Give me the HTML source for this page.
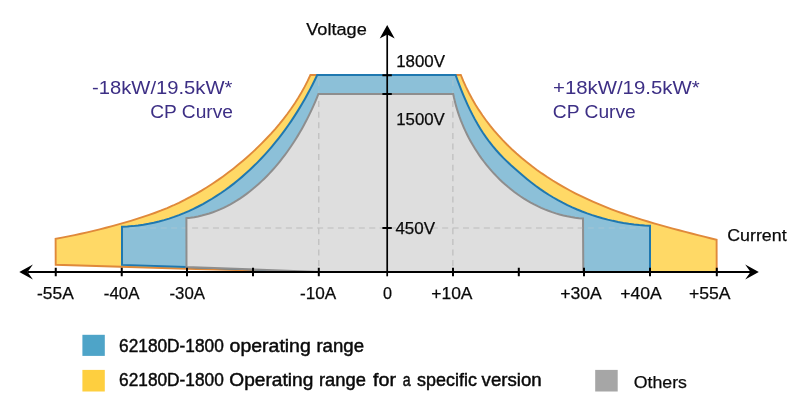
<!DOCTYPE html>
<html><head><meta charset="utf-8"><title>62180D-1800 operating range</title>
<style>
html,body{margin:0;padding:0;background:#fff;}
body{width:800px;height:401px;overflow:hidden;}
svg{display:block;}
text{font-family:"Liberation Sans",sans-serif;}
.ax{font-size:17.4px;fill:#0a0a0a;stroke:#0a0a0a;stroke-width:0.25px;}
.cp{font-size:17.5px;fill:#3d2f85;}
.lg{font-size:17.6px;fill:#0a0a0a;stroke:#0a0a0a;stroke-width:0.45px;}
</style></head><body>
<svg width="800" height="401" viewBox="0 0 800 401">
<rect width="800" height="401" fill="#fff"/>
<!-- specific-version operating range (yellow) -->
<path d="M55.70,264.80 L55.60,238.80 L61.94,237.63 L68.26,236.41 L74.57,235.12 L80.87,233.77 L87.15,232.35 L93.42,230.88 L99.67,229.35 L105.91,227.76 L112.13,226.11 L118.34,224.40 L124.54,222.63 L130.72,220.80 L136.88,218.91 L143.02,216.95 L149.13,214.90 L155.20,212.75 L161.22,210.47 L167.17,208.05 L173.07,205.49 L178.89,202.78 L184.65,199.93 L190.34,196.95 L195.97,193.84 L201.53,190.60 L207.01,187.23 L212.43,183.74 L217.77,180.14 L223.03,176.42 L228.22,172.58 L233.33,168.64 L238.35,164.60 L243.30,160.45 L248.15,156.20 L252.93,151.86 L257.61,147.42 L262.20,142.89 L266.69,138.28 L271.09,133.57 L275.37,128.77 L279.53,123.87 L283.57,118.87 L287.47,113.77 L291.23,108.56 L294.85,103.25 L298.30,97.83 L301.59,92.30 L304.71,86.65 L307.65,80.89 L310.40,75.00 L460.80,75.00 L463.34,81.15 L466.07,87.16 L468.98,93.04 L472.08,98.79 L475.35,104.41 L478.79,109.90 L482.40,115.26 L486.16,120.48 L490.08,125.59 L494.15,130.56 L498.36,135.40 L502.71,140.12 L507.19,144.72 L511.80,149.19 L516.54,153.53 L521.39,157.75 L526.35,161.85 L531.43,165.82 L536.60,169.67 L541.88,173.41 L547.24,177.02 L552.69,180.51 L558.23,183.88 L563.84,187.13 L569.52,190.27 L575.26,193.29 L581.07,196.19 L586.94,198.97 L592.85,201.65 L598.81,204.21 L604.82,206.67 L610.87,209.04 L616.96,211.31 L623.08,213.50 L629.23,215.61 L635.40,217.64 L641.60,219.60 L647.82,221.50 L654.06,223.34 L660.31,225.13 L666.57,226.88 L672.84,228.58 L679.11,230.24 L685.38,231.88 L691.65,233.49 L697.90,235.08 L704.15,236.66 L710.38,238.23 L716.60,239.80 L716.70,272.00 L320.00,272.00 L186.50,268.80 Z" fill="#ffd966" stroke="#e0893a" stroke-width="1.9" stroke-linejoin="miter"/>
<!-- operating range (blue) -->
<path d="M122.00,264.90 L122.00,226.80 L127.40,226.54 L132.76,226.12 L138.08,225.52 L143.36,224.76 L148.59,223.84 L153.78,222.76 L158.92,221.52 L164.02,220.13 L169.07,218.60 L174.07,216.92 L179.01,215.10 L183.91,213.15 L188.74,211.06 L193.53,208.84 L198.25,206.50 L202.92,204.03 L207.52,201.44 L212.06,198.74 L216.54,195.92 L220.96,193.00 L225.31,189.97 L229.59,186.84 L233.80,183.61 L237.94,180.28 L242.01,176.86 L246.00,173.36 L249.92,169.77 L253.77,166.09 L257.55,162.34 L261.25,158.51 L264.87,154.61 L268.43,150.63 L271.90,146.59 L275.31,142.48 L278.63,138.31 L281.89,134.08 L285.06,129.80 L288.16,125.46 L291.19,121.07 L294.14,116.63 L297.01,112.14 L299.80,107.62 L302.52,103.05 L305.16,98.45 L307.72,93.82 L310.21,89.15 L312.62,84.46 L314.95,79.74 L317.20,75.00 L455.60,75.00 L457.46,80.06 L459.37,85.09 L461.32,90.08 L463.34,95.03 L465.44,99.93 L467.62,104.80 L469.89,109.63 L472.28,114.41 L474.78,119.14 L477.41,123.82 L480.17,128.43 L483.06,132.96 L486.09,137.39 L489.25,141.72 L492.56,145.94 L496.02,150.02 L499.61,153.98 L503.31,157.84 L507.12,161.59 L511.01,165.25 L514.98,168.82 L519.00,172.33 L523.07,175.77 L527.17,179.16 L531.33,182.48 L535.56,185.70 L539.87,188.83 L544.26,191.85 L548.73,194.74 L553.29,197.51 L557.93,200.15 L562.64,202.67 L567.42,205.06 L572.26,207.33 L577.17,209.47 L582.14,211.48 L587.15,213.37 L592.22,215.12 L597.33,216.75 L602.48,218.25 L607.67,219.61 L612.89,220.85 L618.14,221.96 L623.41,222.93 L628.71,223.77 L634.02,224.48 L639.34,225.05 L644.67,225.49 L650.00,225.80 L650.00,272.00 L320.00,272.00 L186.50,266.90 Z" fill="#8cc0d8" stroke="#1f78b0" stroke-width="2" stroke-linejoin="miter"/>
<!-- dashed guides inside blue (faint) -->
<g stroke="#a3c4d3" stroke-width="1.1" fill="none">
<line x1="129.4" y1="228" x2="649" y2="228" stroke-dasharray="6 4.42"/>
<line x1="318.8" y1="79.9" x2="318.8" y2="271" stroke-dasharray="6 4.6"/>
<line x1="452.9" y1="79.9" x2="452.9" y2="271" stroke-dasharray="6 4.6"/>
</g>
<!-- others (gray) -->
<path d="M186.50,267.00 L186.40,218.20 L190.34,217.75 L194.22,217.16 L198.06,216.44 L201.86,215.57 L205.60,214.58 L209.29,213.46 L212.94,212.22 L216.53,210.86 L220.08,209.38 L223.57,207.79 L227.01,206.09 L230.41,204.29 L233.75,202.39 L237.04,200.39 L240.27,198.30 L243.46,196.12 L246.59,193.85 L249.67,191.50 L252.70,189.08 L255.67,186.58 L258.59,184.01 L261.45,181.37 L264.26,178.67 L267.01,175.92 L269.71,173.10 L272.35,170.23 L274.94,167.31 L277.48,164.33 L279.96,161.31 L282.39,158.24 L284.76,155.13 L287.08,151.97 L289.34,148.78 L291.56,145.55 L293.71,142.28 L295.82,138.98 L297.87,135.64 L299.87,132.28 L301.82,128.89 L303.71,125.48 L305.55,122.05 L307.34,118.59 L309.07,115.11 L310.76,111.62 L312.39,108.12 L313.97,104.60 L315.50,101.07 L316.97,97.54 L318.40,94.00 L453.20,94.00 L454.01,97.81 L454.91,101.61 L455.90,105.39 L457.00,109.15 L458.18,112.89 L459.46,116.60 L460.83,120.29 L462.28,123.94 L463.83,127.56 L465.46,131.15 L467.18,134.70 L468.98,138.22 L470.87,141.69 L472.83,145.11 L474.88,148.49 L477.01,151.82 L479.21,155.10 L481.49,158.33 L483.85,161.50 L486.28,164.61 L488.78,167.66 L491.35,170.64 L493.99,173.56 L496.70,176.41 L499.48,179.19 L502.33,181.90 L505.24,184.53 L508.21,187.09 L511.25,189.56 L514.34,191.96 L517.50,194.26 L520.71,196.48 L523.98,198.61 L527.31,200.65 L530.69,202.59 L534.12,204.44 L537.61,206.18 L541.14,207.83 L544.73,209.37 L548.36,210.80 L552.04,212.12 L555.77,213.34 L559.54,214.43 L563.35,215.42 L567.20,216.28 L571.09,217.02 L575.03,217.64 L579.00,218.14 L583.00,218.50 L583.30,272.00 L320.00,272.00 Z" fill="#dedede" stroke="#8e8e8e" stroke-width="2" stroke-linejoin="miter"/>
<!-- dashed guides -->
<g stroke="#bcbcbc" stroke-width="1.15" fill="none">
<line x1="192.1" y1="228" x2="582.3" y2="228" stroke-dasharray="6 4.42"/>
<line x1="318.8" y1="101.1" x2="318.8" y2="271" stroke-dasharray="6 4.6"/>
<line x1="452.9" y1="101.1" x2="452.9" y2="271" stroke-dasharray="6 4.6"/>
</g>
<!-- axes -->
<g stroke="#000" stroke-width="2" fill="none">
<line x1="28" y1="272.0" x2="752" y2="272.0"/>
<line x1="387.2" y1="33" x2="387.2" y2="276.3" stroke-width="1.7"/>
<path d="M55.75,267.7V276.2 M121.75,267.7V276.2 M187,267.7V276.2 M253,267.7V276.2 M318.8,267.7V276.2 M453,267.7V276.2 M518.8,267.7V276.2 M584,267.7V276.2 M650,267.7V276.2 M716.8,267.7V276.2 "/>
<path d="M382.4,75.2H391.8 M382.4,94H391.8 M382.4,228.1H391.8"/>
</g>
<path d="M387.2,25 L394.7,38.5 L387.2,34.4 L379.7,38.5 Z" fill="#000"/>
<path d="M758.8,272.0 L745.2,279.5 L750.5,272.0 L745.2,264.5 Z" fill="#000"/>
<path d="M19.3,272.0 L32.9,279.5 L27.6,272.0 L32.9,264.5 Z" fill="#000"/>
<!-- axis labels -->
<g class="ax">
<text x="37" y="299.2" textLength="36.75" lengthAdjust="spacingAndGlyphs">-55A</text>
<text x="103.75" y="299.2" textLength="35.75" lengthAdjust="spacingAndGlyphs">-40A</text>
<text x="169.5" y="299.2" textLength="35.5" lengthAdjust="spacingAndGlyphs">-30A</text>
<text x="300" y="299.2" textLength="36.25" lengthAdjust="spacingAndGlyphs">-10A</text>
<text x="383" y="299.2" textLength="9" lengthAdjust="spacingAndGlyphs">0</text>
<text x="431.25" y="299.2" textLength="41.25" lengthAdjust="spacingAndGlyphs">+10A</text>
<text x="560.2" y="299.2" textLength="41.6" lengthAdjust="spacingAndGlyphs">+30A</text>
<text x="620.2" y="299.2" textLength="41.6" lengthAdjust="spacingAndGlyphs">+40A</text>
<text x="688.9" y="299.2" textLength="41.6" lengthAdjust="spacingAndGlyphs">+55A</text>
<text x="306.2" y="35" textLength="60.6" lengthAdjust="spacingAndGlyphs">Voltage</text>
<text x="396.2" y="67.1" textLength="48.8" lengthAdjust="spacingAndGlyphs">1800V</text>
<text x="396.2" y="124.6" textLength="48.6" lengthAdjust="spacingAndGlyphs">1500V</text>
<text x="395.4" y="234" textLength="39.6" lengthAdjust="spacingAndGlyphs">450V</text>
<text x="727.2" y="241.2" textLength="59.4" lengthAdjust="spacingAndGlyphs">Current</text>
</g>
<g class="cp">
<text x="92.0" y="93.8" textLength="140.4" lengthAdjust="spacingAndGlyphs">-18kW/19.5kW*</text>
<text x="150.2" y="117.5" textLength="82.8" lengthAdjust="spacingAndGlyphs">CP Curve</text>
<text x="553.0" y="93.8" textLength="146.6" lengthAdjust="spacingAndGlyphs">+18kW/19.5kW*</text>
<text x="552.8" y="117.5" textLength="83" lengthAdjust="spacingAndGlyphs">CP Curve</text>
</g>
<!-- legend -->
<rect x="82.4" y="334.8" width="22.4" height="21.1" fill="#4ea4c8"/>
<rect x="82.4" y="369.9" width="22.4" height="21.6" fill="#fecf3f"/>
<rect x="595.2" y="369.9" width="22.5" height="21.6" fill="#a6a6a6"/>
<g class="lg">
<text y="351.9"><tspan x="119.1" textLength="104.65" lengthAdjust="spacingAndGlyphs">62180D-1800</tspan> <tspan x="229.6" textLength="81.2" lengthAdjust="spacingAndGlyphs">operating</tspan> <tspan x="316.4" textLength="47.6" lengthAdjust="spacingAndGlyphs">range</tspan></text>
<text y="386.3"><tspan x="119.1" textLength="104.65" lengthAdjust="spacingAndGlyphs">62180D-1800</tspan> <tspan x="229.3" textLength="84.0" lengthAdjust="spacingAndGlyphs">Operating</tspan> <tspan x="319.0" textLength="46.9" lengthAdjust="spacingAndGlyphs">range</tspan> <tspan x="373.1" textLength="23" lengthAdjust="spacingAndGlyphs">for</tspan> <tspan x="402.75" textLength="7.9" lengthAdjust="spacingAndGlyphs">a</tspan> <tspan x="417" textLength="59.9" lengthAdjust="spacingAndGlyphs">specific</tspan> <tspan x="481.6" textLength="60.1" lengthAdjust="spacingAndGlyphs">version</tspan></text>
</g>
<g class="ax"><text x="633.8" y="387.5" textLength="53.2" lengthAdjust="spacingAndGlyphs">Others</text></g>
</svg>
</body></html>
